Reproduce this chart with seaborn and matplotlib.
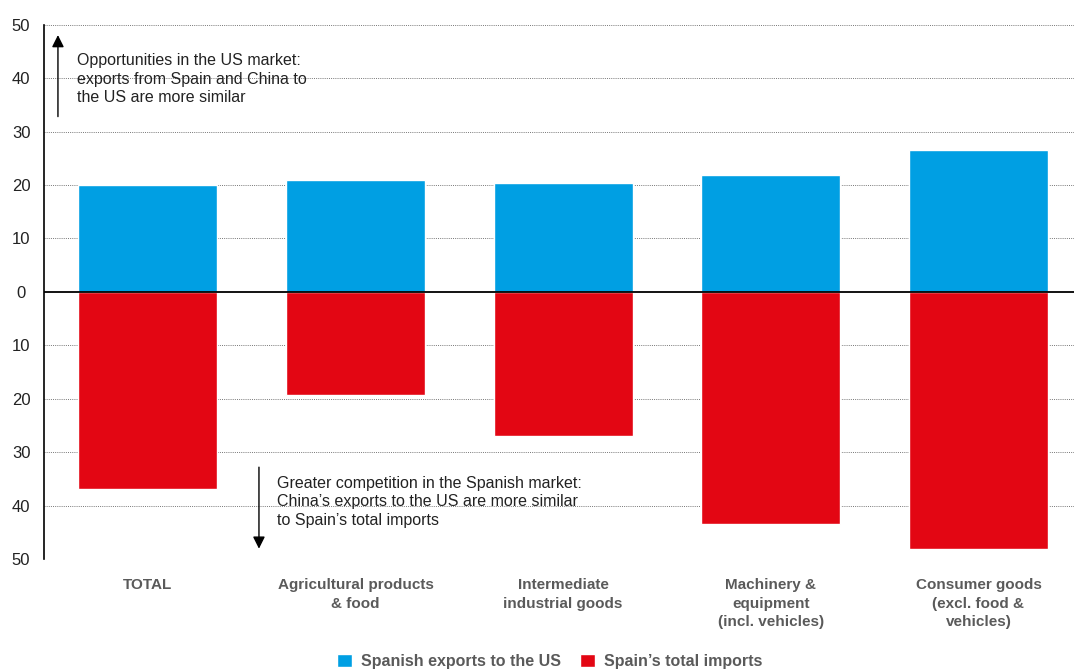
import pandas as pd
import matplotlib
matplotlib.use("Agg")
import matplotlib.pyplot as plt
import seaborn as sns
from matplotlib.patches import Patch

# ==========================================
# Data
# ==========================================
categories = ["TOTAL", "Agricultural products\n& food", "Intermediate\nindustrial goods",
              "Machinery &\nequipment\n(incl. vehicles)", "Consumer goods\n(excl. food &\nvehicles)"]
exports_us = [20.0, 21.0, 20.4, 21.9, 26.6]
total_imports = [36.9, 19.3, 27.0, 43.4, 48.1]
series_names = ["Spanish exports to the US", "Spain\u2019s total imports"]
yticks = [-50, -40, -30, -20, -10, 0, 10, 20, 30, 40, 50]

df = pd.DataFrame({
    "category": categories * 2,
    "series": [series_names[0]] * 5 + [series_names[1]] * 5,
    "value": exports_us + [-v for v in total_imports],
})

blue = "#009fe3"
red = "#e30613"

sns.set_style("white")
plt.rcParams["font.family"] = ["Liberation Sans", "DejaVu Sans"]

fig = plt.figure(figsize=(10.74, 6.71), dpi=100)
ax = fig.add_axes([0.041, 0.167, 0.959, 0.796])

sns.barplot(data=df, x="category", y="value", hue="series", dodge=False,
            palette=[blue, red], width=0.67, saturation=1, ax=ax, zorder=3, legend=False)

ax.set_ylim(-50, 50)
ax.set_xlim(-0.5, 4.46)
ax.set_yticks(yticks)
ax.set_yticklabels([str(abs(t)) for t in yticks], fontsize=12, color="#222222", ha="center")
ax.tick_params(axis="y", length=0, pad=16.5)
ax.tick_params(axis="x", length=0, pad=14)
ax.set_xticks(range(len(categories)))
ax.set_xticklabels(categories, fontsize=11, fontweight="bold", color="#5a5a5a",
                   linespacing=1.4, va="top")
ax.set_xlabel("")
ax.set_ylabel("")

for t in yticks:
    if t != 0:
        ax.axhline(t, color="#777777", lw=0.7, ls=(0, (1, 1.2)), zorder=1)
ax.axhline(0, color="black", lw=1.3, zorder=4)

for s in ["top", "right", "bottom"]:
    ax.spines[s].set_visible(False)
ax.spines["left"].set_color("black")
ax.spines["left"].set_linewidth(1.2)

# Annotations
ax.annotate("", xy=(-0.433, 48.6), xytext=(-0.433, 32.3),
            arrowprops=dict(arrowstyle="-|>", color="black", lw=1, mutation_scale=18), zorder=5)
ax.text(-0.341, 39.8, "Opportunities in the US market:\nexports from Spain and China to\nthe US are more similar",
        fontsize=11.5, color="#222222", va="center", ha="left", linespacing=1.3, zorder=5)

ax.annotate("", xy=(0.535, -48.6), xytext=(0.535, -32.3),
            arrowprops=dict(arrowstyle="-|>", color="black", lw=1, mutation_scale=18), zorder=5)
ax.text(0.622, -39.3, "Greater competition in the Spanish market:\nChina\u2019s exports to the US are more similar\nto Spain\u2019s total imports",
        fontsize=11.5, color="#222222", va="center", ha="left", linespacing=1.3, zorder=5)

# Legend
handles = [Patch(facecolor=blue, label=series_names[0]), Patch(facecolor=red, label=series_names[1])]
leg = fig.legend(handles=handles, loc="center", bbox_to_anchor=(0.512, 0.014), ncol=2,
                 frameon=False, handlelength=0.9, handleheight=0.9, handletextpad=0.6,
                 columnspacing=1.2, prop={"size": 11.5, "weight": "bold"})
for txt in leg.get_texts():
    txt.set_color("#5a5a5a")

plt.savefig("out.png", dpi=100)
